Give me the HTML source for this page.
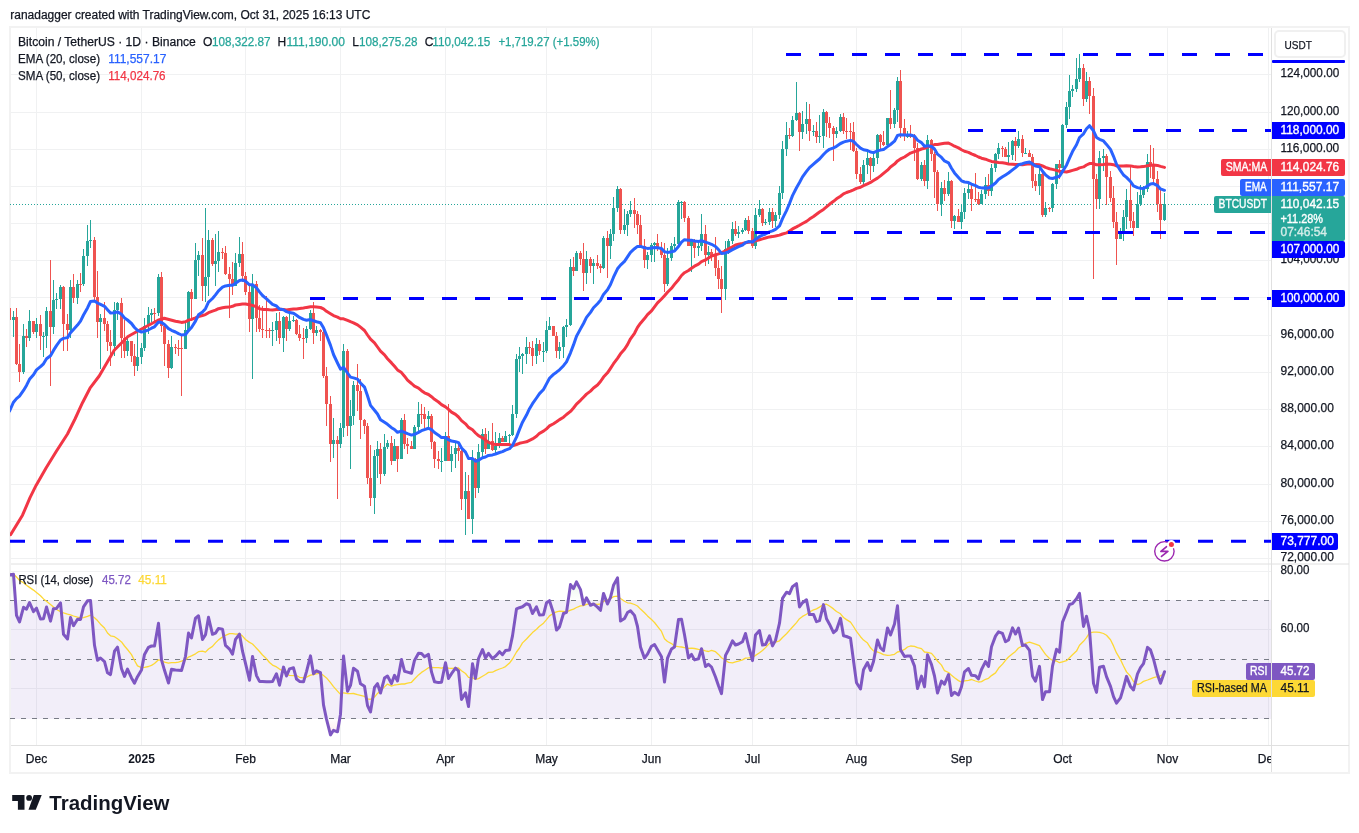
<!DOCTYPE html><html><head><meta charset="utf-8"><style>html,body{margin:0;padding:0;background:#fff;width:1359px;height:833px;overflow:hidden}svg{display:block;will-change:transform}text{font-family:"Liberation Sans",sans-serif}</style></head><body>
<svg width="1359" height="833" viewBox="0 0 1359 833">
<rect width="1359" height="833" fill="#fff"/>
<text x="10.3" y="18.8" font-size="12" fill="#131722" stroke="#131722" stroke-width="0.25" textLength="360" lengthAdjust="spacingAndGlyphs">ranadagger created with TradingView.com, Oct 31, 2025 16:13 UTC</text>
<rect x="10" y="27" width="1339" height="746" fill="none" stroke="#f2f2f2" stroke-width="2"/>
<line x1="36.5" y1="28" x2="36.5" y2="745" stroke="#f0f1f2" stroke-width="1"/>
<line x1="141.5" y1="28" x2="141.5" y2="745" stroke="#f0f1f2" stroke-width="1"/>
<line x1="245.5" y1="28" x2="245.5" y2="745" stroke="#f0f1f2" stroke-width="1"/>
<line x1="340.5" y1="28" x2="340.5" y2="745" stroke="#f0f1f2" stroke-width="1"/>
<line x1="445.5" y1="28" x2="445.5" y2="745" stroke="#f0f1f2" stroke-width="1"/>
<line x1="546.5" y1="28" x2="546.5" y2="745" stroke="#f0f1f2" stroke-width="1"/>
<line x1="651.5" y1="28" x2="651.5" y2="745" stroke="#f0f1f2" stroke-width="1"/>
<line x1="752.5" y1="28" x2="752.5" y2="745" stroke="#f0f1f2" stroke-width="1"/>
<line x1="856.5" y1="28" x2="856.5" y2="745" stroke="#f0f1f2" stroke-width="1"/>
<line x1="961.5" y1="28" x2="961.5" y2="745" stroke="#f0f1f2" stroke-width="1"/>
<line x1="1062.5" y1="28" x2="1062.5" y2="745" stroke="#f0f1f2" stroke-width="1"/>
<line x1="1167.5" y1="28" x2="1167.5" y2="745" stroke="#f0f1f2" stroke-width="1"/>
<line x1="1268.5" y1="28" x2="1268.5" y2="745" stroke="#f0f1f2" stroke-width="1"/>
<line x1="11" y1="74.5" x2="1271" y2="74.5" stroke="#f0f1f2" stroke-width="1"/>
<line x1="11" y1="112.5" x2="1271" y2="112.5" stroke="#f0f1f2" stroke-width="1"/>
<line x1="11" y1="149.5" x2="1271" y2="149.5" stroke="#f0f1f2" stroke-width="1"/>
<line x1="11" y1="186.5" x2="1271" y2="186.5" stroke="#f0f1f2" stroke-width="1"/>
<line x1="11" y1="223.5" x2="1271" y2="223.5" stroke="#f0f1f2" stroke-width="1"/>
<line x1="11" y1="260.5" x2="1271" y2="260.5" stroke="#f0f1f2" stroke-width="1"/>
<line x1="11" y1="297.5" x2="1271" y2="297.5" stroke="#f0f1f2" stroke-width="1"/>
<line x1="11" y1="335.5" x2="1271" y2="335.5" stroke="#f0f1f2" stroke-width="1"/>
<line x1="11" y1="372.5" x2="1271" y2="372.5" stroke="#f0f1f2" stroke-width="1"/>
<line x1="11" y1="409.5" x2="1271" y2="409.5" stroke="#f0f1f2" stroke-width="1"/>
<line x1="11" y1="446.5" x2="1271" y2="446.5" stroke="#f0f1f2" stroke-width="1"/>
<line x1="11" y1="484.5" x2="1271" y2="484.5" stroke="#f0f1f2" stroke-width="1"/>
<line x1="11" y1="521.5" x2="1271" y2="521.5" stroke="#f0f1f2" stroke-width="1"/>
<line x1="11" y1="558.5" x2="1271" y2="558.5" stroke="#f0f1f2" stroke-width="1"/>
<line x1="11" y1="571.5" x2="1271" y2="571.5" stroke="#f0f1f2" stroke-width="1"/>
<line x1="11" y1="629.5" x2="1271" y2="629.5" stroke="#f0f1f2" stroke-width="1"/>
<line x1="11" y1="688.5" x2="1271" y2="688.5" stroke="#f0f1f2" stroke-width="1"/>
<rect x="11" y="600" width="1260" height="119" fill="#7e57c2" fill-opacity="0.1"/>
<line x1="10" y1="600.5" x2="1271" y2="600.5" stroke="#787b86" stroke-width="1" stroke-dasharray="5 6"/>
<line x1="10" y1="659.5" x2="1271" y2="659.5" stroke="#787b86" stroke-width="1" stroke-dasharray="5 6"/>
<line x1="10" y1="718.5" x2="1271" y2="718.5" stroke="#787b86" stroke-width="1" stroke-dasharray="5 6"/>
<line x1="11" y1="564" x2="1349" y2="564" stroke="#e0e0e0" stroke-width="1"/>
<line x1="11" y1="745.5" x2="1349" y2="745.5" stroke="#e0e0e0" stroke-width="1"/>
<defs><clipPath id="mc"><rect x="10" y="28" width="1261" height="536"/></clipPath><clipPath id="rc"><rect x="10" y="565" width="1261" height="180"/></clipPath></defs>
<g clip-path="url(#mc)">
<line x1="10" y1="204.5" x2="1271" y2="204.5" stroke="#26a69a" stroke-width="1" stroke-dasharray="1 2"/>
<path d="M13.5 311V337M23.5 324V374M29.5 310V341M36.5 318V338M43.5 332V357M46.5 307V348M53.5 280V334M56.5 293V309M60.5 285V309M70.5 280V338M77.5 280V304M83.5 249V286M87.5 225V266M90.5 220V248M100.5 314V369M114.5 302V356M117.5 302V320M127.5 337V356M137.5 331V371M141.5 343V364M144.5 318V351M148.5 307V334M151.5 309V322M158.5 274V316M171.5 336V369M185.5 322V349M188.5 291V331M195.5 243V299M198.5 251V276M205.5 208V302M208.5 230V296M215.5 234V286M218.5 231V272M235.5 253V286M239.5 237V267M252.5 274V379M272.5 322V346M276.5 313V341M283.5 316V352M289.5 308V331M293.5 316V322M306.5 326V343M310.5 310V330M316.5 326V336M333.5 418V458M340.5 423V448M343.5 344V437M350.5 400V469M353.5 381V425M374.5 450V514M377.5 441V478M384.5 434V476M387.5 440V449M394.5 439V461M401.5 418V459M414.5 425V449M418.5 402V431M428.5 411V429M441.5 448V472M445.5 432V461M451.5 446V472M455.5 441V468M465.5 472V535M472.5 450V534M478.5 444V493M482.5 429V458M488.5 431V449M495.5 432V454M499.5 433V448M505.5 431V442M509.5 434V446M512.5 405V436M516.5 354V418M519.5 347V372M522.5 353V374M526.5 337V364M536.5 338V364M543.5 342V362M546.5 321V353M549.5 317V330M559.5 342V359M563.5 326V358M566.5 319V337M570.5 259V326M576.5 251V271M586.5 251V284M593.5 259V284M603.5 236V269M610.5 229V259M613.5 197V241M617.5 186V212M624.5 209V234M627.5 211V236M630.5 201V217M647.5 252V269M651.5 243V262M654.5 242V262M667.5 248V286M671.5 243V261M674.5 237V251M678.5 200V246M681.5 201V219M691.5 240V272M698.5 241V256M701.5 214V251M708.5 246V264M725.5 241V300M728.5 239V254M732.5 222V244M738.5 226V238M742.5 228V234M745.5 218V231M755.5 208V249M759.5 200V217M765.5 219V225M769.5 208V225M775.5 212V227M779.5 186V219M782.5 141V199M786.5 122V156M792.5 116V137M796.5 82V121M802.5 111V139M806.5 102V134M813.5 125V136M819.5 115V143M823.5 109V148M836.5 127V138M840.5 114V132M863.5 160V186M867.5 151V174M873.5 151V172M877.5 134V164M887.5 118V145M894.5 108V128M897.5 77V122M907.5 131V138M921.5 162V181M927.5 135V189M941.5 182V216M948.5 172V196M954.5 215V229M961.5 204V229M964.5 188V219M968.5 181V199M981.5 190V204M985.5 177V199M991.5 164V196M995.5 153V172M998.5 143V159M1008.5 142V164M1012.5 140V160M1018.5 131V148M1025.5 148V154M1039.5 168V195M1045.5 202V217M1052.5 183V212M1056.5 164V189M1062.5 124V168M1066.5 102V128M1069.5 75V119M1072.5 85V97M1076.5 58V92M1079.5 54V82M1086.5 72V102M1099.5 151V209M1103.5 149V171M1120.5 228V239M1123.5 210V241M1126.5 189V229M1137.5 192V228M1140.5 185V206M1143.5 186V198M1147.5 154V192M1164.5 193V221" stroke="#26a69a" stroke-width="1" fill="none"/>
<path d="M9.5 308V321M16.5 308V365M19.5 344V382M26.5 329V347M33.5 321V334M40.5 315V350M50.5 260V386M63.5 286V351M67.5 314V351M73.5 274V303M80.5 273V292M94.5 237V300M97.5 271V338M104.5 302V331M107.5 321V351M110.5 330V366M121.5 298V358M124.5 320V358M131.5 341V362M134.5 344V376M154.5 308V322M161.5 272V332M164.5 323V366M168.5 340V378M175.5 344V354M178.5 340V356M181.5 335V396M191.5 289V321M202.5 238V301M212.5 238V266M222.5 248V259M225.5 246V275M229.5 267V318M232.5 262V295M242.5 242V282M245.5 272V295M249.5 284V332M256.5 281V332M259.5 305V332M262.5 306V338M266.5 296V338M269.5 328V338M279.5 312V344M286.5 316V341M296.5 319V335M299.5 325V341M303.5 328V359M313.5 302V344M320.5 329V341M323.5 330V378M326.5 367V426M330.5 396V462M337.5 436V499M347.5 349V436M357.5 364V411M360.5 379V439M364.5 419V434M367.5 423V484M370.5 445V506M380.5 443V484M391.5 436V465M397.5 446V472M404.5 414V449M407.5 438V454M411.5 441V449M421.5 404V424M424.5 407V428M431.5 414V449M434.5 441V468M438.5 451V469M448.5 404V461M458.5 444V461M461.5 448V510M468.5 475V519M475.5 458V498M485.5 428V454M492.5 423V451M502.5 436V442M529.5 342V354M532.5 341V366M539.5 340V355M553.5 326V336M556.5 332V358M573.5 257V276M580.5 251V265M583.5 243V291M590.5 257V273M597.5 255V269M600.5 264V273M607.5 231V278M620.5 188V234M634.5 198V228M637.5 211V234M640.5 215V246M644.5 239V268M657.5 234V251M661.5 242V258M664.5 243V292M684.5 201V222M688.5 216V246M694.5 239V258M705.5 225V266M711.5 249V261M715.5 237V276M718.5 260V289M721.5 266V313M735.5 221V236M748.5 216V234M752.5 228V248M762.5 208V226M772.5 208V228M789.5 128V139M799.5 112V151M809.5 104V141M816.5 122V143M826.5 111V137M829.5 117V138M833.5 126V161M843.5 113V134M846.5 118V139M850.5 123V150M853.5 122V152M856.5 148V179M860.5 167V184M870.5 157V180M880.5 134V149M883.5 131V146M890.5 90V129M900.5 70V138M904.5 119V141M910.5 125V138M914.5 134V161M917.5 143V180M924.5 160V186M931.5 139V161M934.5 152V198M937.5 170V211M944.5 180V201M951.5 180V228M958.5 209V222M971.5 184V211M975.5 173V202M978.5 192V205M988.5 174V196M1002.5 146V157M1005.5 147V157M1015.5 137V161M1022.5 135V157M1029.5 150V157M1032.5 154V188M1035.5 174V191M1042.5 172V217M1049.5 207V212M1059.5 160V179M1083.5 64V106M1089.5 77V114M1093.5 88V279M1096.5 174V209M1106.5 154V205M1110.5 171V202M1113.5 186V228M1116.5 212V265M1130.5 166V228M1133.5 212V236M1150.5 145V178M1153.5 148V184M1157.5 171V212M1160.5 190V239" stroke="#ef5350" stroke-width="1" fill="none"/>
<path d="M12 317h3V320h-3ZM22 336h3V372h-3ZM28 321h3V338h-3ZM35 324h3V332h-3ZM42 336h3V337h-3ZM45 311h3V336h-3ZM52 300h3V327h-3ZM55 299h3V300h-3ZM59 287h3V299h-3ZM69 287h3V330h-3ZM76 284h3V298h-3ZM82 256h3V284h-3ZM86 241h3V256h-3ZM89 240h3V241h-3ZM99 318h3V322h-3ZM113 310h3V346h-3ZM116 303h3V310h-3ZM126 341h3V351h-3ZM136 357h3V366h-3ZM140 348h3V357h-3ZM143 326h3V348h-3ZM147 315h3V326h-3ZM150 313h3V315h-3ZM157 277h3V313h-3ZM170 347h3V368h-3ZM184 330h3V349h-3ZM187 292h3V330h-3ZM194 260h3V299h-3ZM197 255h3V260h-3ZM204 277h3V286h-3ZM207 240h3V277h-3ZM214 261h3V264h-3ZM217 252h3V261h-3ZM234 263h3V286h-3ZM238 254h3V263h-3ZM251 284h3V319h-3ZM271 330h3V331h-3ZM275 321h3V330h-3ZM282 317h3V338h-3ZM288 321h3V329h-3ZM292 320h3V321h-3ZM305 329h3V338h-3ZM309 313h3V329h-3ZM315 330h3V333h-3ZM332 440h3V444h-3ZM339 428h3V444h-3ZM342 351h3V428h-3ZM349 416h3V426h-3ZM352 385h3V416h-3ZM373 456h3V498h-3ZM376 449h3V456h-3ZM383 447h3V474h-3ZM386 443h3V447h-3ZM393 446h3V461h-3ZM400 420h3V459h-3ZM413 427h3V449h-3ZM417 414h3V427h-3ZM427 416h3V419h-3ZM440 461h3V462h-3ZM444 436h3V461h-3ZM450 454h3V461h-3ZM454 448h3V454h-3ZM464 491h3V499h-3ZM471 459h3V519h-3ZM477 452h3V488h-3ZM481 434h3V452h-3ZM487 441h3V449h-3ZM494 446h3V450h-3ZM498 438h3V446h-3ZM504 436h3V442h-3ZM508 435h3V436h-3ZM511 414h3V435h-3ZM515 359h3V414h-3ZM518 356h3V359h-3ZM521 354h3V356h-3ZM525 347h3V354h-3ZM535 344h3V356h-3ZM542 351h3V352h-3ZM545 330h3V351h-3ZM548 326h3V330h-3ZM558 347h3V351h-3ZM562 327h3V347h-3ZM565 325h3V327h-3ZM569 267h3V325h-3ZM575 253h3V271h-3ZM585 259h3V273h-3ZM592 263h3V266h-3ZM602 238h3V268h-3ZM609 234h3V246h-3ZM612 208h3V234h-3ZM616 189h3V208h-3ZM623 225h3V230h-3ZM626 214h3V225h-3ZM629 210h3V214h-3ZM646 255h3V260h-3ZM650 245h3V255h-3ZM653 243h3V245h-3ZM666 258h3V284h-3ZM670 246h3V258h-3ZM673 244h3V246h-3ZM677 202h3V244h-3ZM680 202h3V203h-3ZM690 241h3V246h-3ZM697 246h3V248h-3ZM700 234h3V246h-3ZM707 252h3V255h-3ZM724 249h3V289h-3ZM727 241h3V249h-3ZM731 229h3V241h-3ZM737 232h3V234h-3ZM741 230h3V232h-3ZM744 220h3V230h-3ZM754 215h3V246h-3ZM758 209h3V215h-3ZM764 222h3V223h-3ZM768 212h3V222h-3ZM774 215h3V221h-3ZM778 193h3V215h-3ZM781 149h3V193h-3ZM785 135h3V149h-3ZM791 120h3V136h-3ZM795 113h3V120h-3ZM801 124h3V132h-3ZM805 119h3V124h-3ZM812 131h3V132h-3ZM818 136h3V137h-3ZM822 112h3V136h-3ZM835 131h3V134h-3ZM839 117h3V131h-3ZM862 165h3V182h-3ZM866 158h3V165h-3ZM872 158h3V166h-3ZM876 135h3V158h-3ZM886 118h3V145h-3ZM893 110h3V124h-3ZM896 81h3V110h-3ZM906 136h3V137h-3ZM920 165h3V179h-3ZM926 140h3V181h-3ZM940 188h3V204h-3ZM947 181h3V194h-3ZM953 216h3V221h-3ZM960 212h3V222h-3ZM963 193h3V212h-3ZM967 189h3V193h-3ZM980 194h3V204h-3ZM984 185h3V194h-3ZM990 168h3V191h-3ZM994 154h3V168h-3ZM997 148h3V154h-3ZM1007 155h3V157h-3ZM1011 141h3V155h-3ZM1017 139h3V146h-3ZM1024 153h3V154h-3ZM1038 174h3V186h-3ZM1044 208h3V215h-3ZM1051 184h3V208h-3ZM1055 164h3V184h-3ZM1061 125h3V168h-3ZM1065 107h3V125h-3ZM1068 91h3V107h-3ZM1071 89h3V91h-3ZM1075 79h3V89h-3ZM1078 68h3V79h-3ZM1085 81h3V99h-3ZM1098 158h3V199h-3ZM1102 156h3V158h-3ZM1119 231h3V239h-3ZM1122 217h3V231h-3ZM1125 200h3V217h-3ZM1136 204h3V228h-3ZM1139 195h3V204h-3ZM1142 189h3V195h-3ZM1146 162h3V189h-3ZM1163 204h3V220h-3Z" fill="#26a69a"/>
<path d="M8 308h3V320h-3ZM15 317h3V364h-3ZM18 364h3V372h-3ZM25 336h3V338h-3ZM32 321h3V332h-3ZM39 324h3V336h-3ZM49 311h3V327h-3ZM62 287h3V324h-3ZM66 324h3V330h-3ZM72 287h3V298h-3ZM79 284h3V285h-3ZM93 240h3V297h-3ZM96 297h3V322h-3ZM103 318h3V324h-3ZM106 324h3V342h-3ZM109 342h3V346h-3ZM120 303h3V338h-3ZM123 338h3V351h-3ZM130 341h3V356h-3ZM133 356h3V366h-3ZM153 313h3V314h-3ZM160 277h3V326h-3ZM163 326h3V344h-3ZM167 344h3V368h-3ZM174 347h3V348h-3ZM177 348h3V349h-3ZM180 348h3V349h-3ZM190 292h3V299h-3ZM201 255h3V286h-3ZM211 240h3V264h-3ZM221 252h3V253h-3ZM224 253h3V274h-3ZM228 274h3V279h-3ZM231 279h3V286h-3ZM241 254h3V276h-3ZM244 276h3V292h-3ZM248 292h3V319h-3ZM255 284h3V318h-3ZM258 318h3V329h-3ZM261 329h3V330h-3ZM265 330h3V331h-3ZM268 330h3V331h-3ZM278 321h3V338h-3ZM285 317h3V329h-3ZM295 320h3V334h-3ZM298 334h3V338h-3ZM302 338h3V339h-3ZM312 313h3V333h-3ZM319 330h3V332h-3ZM322 332h3V376h-3ZM325 376h3V404h-3ZM329 404h3V444h-3ZM336 440h3V444h-3ZM346 351h3V426h-3ZM356 385h3V391h-3ZM359 391h3V420h-3ZM363 420h3V426h-3ZM366 426h3V478h-3ZM369 478h3V498h-3ZM379 449h3V474h-3ZM390 443h3V461h-3ZM396 446h3V459h-3ZM403 420h3V444h-3ZM406 444h3V446h-3ZM410 446h3V449h-3ZM420 414h3V415h-3ZM423 414h3V419h-3ZM430 416h3V442h-3ZM433 442h3V459h-3ZM437 459h3V461h-3ZM447 436h3V461h-3ZM457 448h3V451h-3ZM460 451h3V499h-3ZM467 491h3V519h-3ZM474 459h3V488h-3ZM484 434h3V449h-3ZM491 441h3V450h-3ZM501 438h3V442h-3ZM528 347h3V348h-3ZM531 348h3V356h-3ZM538 344h3V351h-3ZM552 326h3V336h-3ZM555 336h3V351h-3ZM572 267h3V271h-3ZM579 253h3V259h-3ZM582 259h3V273h-3ZM589 259h3V266h-3ZM596 263h3V266h-3ZM599 266h3V268h-3ZM606 238h3V246h-3ZM619 189h3V230h-3ZM633 210h3V214h-3ZM636 214h3V225h-3ZM639 225h3V246h-3ZM643 246h3V260h-3ZM656 243h3V248h-3ZM660 248h3V255h-3ZM663 255h3V284h-3ZM683 202h3V218h-3ZM687 218h3V246h-3ZM693 241h3V248h-3ZM704 234h3V255h-3ZM710 252h3V256h-3ZM714 256h3V268h-3ZM717 268h3V279h-3ZM720 279h3V289h-3ZM734 229h3V234h-3ZM747 220h3V231h-3ZM751 231h3V246h-3ZM761 209h3V223h-3ZM771 212h3V221h-3ZM788 135h3V136h-3ZM798 113h3V132h-3ZM808 119h3V131h-3ZM815 131h3V137h-3ZM825 112h3V123h-3ZM828 123h3V128h-3ZM832 128h3V134h-3ZM842 117h3V131h-3ZM845 131h3V132h-3ZM849 131h3V132h-3ZM852 132h3V151h-3ZM855 151h3V174h-3ZM859 174h3V182h-3ZM869 158h3V166h-3ZM879 135h3V142h-3ZM882 142h3V145h-3ZM889 118h3V124h-3ZM899 81h3V128h-3ZM903 128h3V136h-3ZM909 136h3V137h-3ZM913 136h3V148h-3ZM916 148h3V179h-3ZM923 165h3V181h-3ZM930 140h3V154h-3ZM933 154h3V172h-3ZM936 172h3V204h-3ZM943 188h3V194h-3ZM950 181h3V221h-3ZM957 216h3V222h-3ZM970 189h3V199h-3ZM974 199h3V200h-3ZM977 199h3V204h-3ZM987 185h3V191h-3ZM1001 148h3V149h-3ZM1004 149h3V157h-3ZM1014 141h3V146h-3ZM1021 139h3V153h-3ZM1028 153h3V157h-3ZM1031 157h3V181h-3ZM1034 181h3V186h-3ZM1041 174h3V215h-3ZM1048 208h3V209h-3ZM1058 164h3V168h-3ZM1082 68h3V99h-3ZM1088 81h3V96h-3ZM1092 96h3V179h-3ZM1095 179h3V199h-3ZM1105 156h3V177h-3ZM1109 177h3V198h-3ZM1112 198h3V222h-3ZM1115 222h3V239h-3ZM1129 200h3V221h-3ZM1132 221h3V228h-3ZM1149 162h3V166h-3ZM1152 166h3V179h-3ZM1156 179h3V204h-3ZM1159 204h3V220h-3Z" fill="#ef5350"/>
<polyline points="10.6,534.6 22.5,515.2 30.0,497.7 36.2,485.2 46.2,467.7 56.2,451.5 67.5,434.0 75.0,419.0 82.5,402.7 90.0,388.2 99.2,376.0 114.2,350.2 128.0,336.5 139.2,330.2 158.0,320.2 164.2,318.2 175.5,321.2 178.5,321.7 181.5,322.4 185.5,321.7 188.5,320.1 191.5,319.4 195.5,317.8 198.5,316.5 202.5,315.5 205.5,314.6 208.5,312.7 212.5,311.2 215.5,310.2 218.5,308.7 222.5,307.8 225.5,307.3 229.5,307.1 232.5,306.3 235.5,305.0 239.5,304.4 242.5,303.9 245.5,304.1 249.5,304.8 252.5,305.4 256.5,306.9 259.5,308.7 262.5,309.4 266.5,309.5 269.5,309.8 272.5,309.9 276.5,309.5 279.5,309.3 283.5,309.4 286.5,310.0 289.5,309.6 293.5,309.0 296.5,308.9 299.5,308.5 303.5,308.0 306.5,307.4 310.5,306.7 313.5,306.8 316.5,307.1 320.5,307.5 323.5,308.8 326.5,311.3 330.5,313.7 333.5,315.6 337.5,317.1 340.5,318.7 343.5,318.8 347.5,320.4 350.5,321.7 353.5,322.8 357.5,324.8 360.5,327.2 364.5,330.5 367.5,335.0 370.5,339.2 374.5,342.8 377.5,347.0 380.5,351.2 384.5,354.9 387.5,358.7 391.5,362.9 394.5,366.3 397.5,369.9 401.5,372.6 404.5,376.2 407.5,380.1 411.5,383.5 414.5,386.2 418.5,388.1 421.5,390.7 424.5,392.8 428.5,394.5 431.5,396.7 434.5,399.3 438.5,402.0 441.5,404.6 445.5,406.9 448.5,409.3 451.5,412.1 455.5,414.4 458.5,417.0 461.5,420.6 465.5,423.8 468.5,427.4 472.5,429.8 475.5,433.0 478.5,435.7 482.5,437.8 485.5,440.1 488.5,442.3 492.5,443.8 495.5,444.6 499.5,444.5 502.5,444.6 505.5,444.4 509.5,444.6 512.5,445.8 516.5,444.5 519.5,443.3 522.5,442.6 526.5,441.8 529.5,440.3 532.5,438.9 536.5,436.3 539.5,433.3 543.5,431.2 546.5,428.8 549.5,425.9 553.5,423.7 556.5,421.8 559.5,419.6 563.5,417.2 566.5,414.5 570.5,411.4 573.5,408.0 576.5,404.1 580.5,400.3 583.5,397.2 586.5,394.1 590.5,391.1 593.5,388.0 597.5,385.0 600.5,381.5 603.5,377.1 607.5,372.8 610.5,368.3 613.5,363.7 617.5,358.3 620.5,353.8 624.5,349.3 627.5,344.6 630.5,338.8 634.5,333.3 637.5,327.4 640.5,323.2 644.5,318.6 647.5,314.7 651.5,310.9 654.5,306.8 657.5,302.9 661.5,299.0 664.5,295.8 667.5,292.2 671.5,288.3 674.5,284.4 678.5,279.7 681.5,275.5 684.5,272.7 688.5,270.5 691.5,268.2 694.5,266.2 698.5,264.2 701.5,261.7 705.5,259.9 708.5,258.0 711.5,256.1 715.5,254.8 718.5,253.9 721.5,252.9 725.5,250.9 728.5,248.8 732.5,246.8 735.5,245.0 738.5,244.3 742.5,243.5 745.5,242.8 748.5,242.3 752.5,241.7 755.5,240.8 759.5,239.7 762.5,238.9 765.5,238.0 769.5,236.9 772.5,236.6 775.5,236.0 779.5,235.1 782.5,234.0 786.5,232.9 789.5,231.0 792.5,228.9 796.5,226.9 799.5,225.3 802.5,223.5 806.5,221.4 809.5,219.1 813.5,216.5 816.5,214.2 819.5,212.0 823.5,209.4 826.5,206.9 829.5,204.3 833.5,201.3 836.5,198.8 840.5,196.2 843.5,193.9 846.5,192.5 850.5,191.1 853.5,189.8 856.5,188.4 860.5,187.2 863.5,185.6 867.5,183.8 870.5,182.4 873.5,180.5 877.5,178.1 880.5,175.9 883.5,173.4 887.5,170.2 890.5,166.9 894.5,164.1 897.5,160.9 900.5,158.9 904.5,157.0 907.5,155.0 910.5,153.1 914.5,151.7 917.5,150.6 921.5,149.0 924.5,148.3 927.5,147.0 931.5,145.6 934.5,144.6 937.5,144.4 941.5,143.8 944.5,143.3 948.5,143.1 951.5,144.5 954.5,146.2 958.5,147.9 961.5,149.7 964.5,151.3 968.5,152.4 971.5,153.9 975.5,155.5 978.5,157.0 981.5,158.2 985.5,159.2 988.5,160.3 991.5,161.4 995.5,162.0 998.5,162.4 1002.5,162.7 1005.5,163.2 1008.5,164.0 1012.5,164.2 1015.5,164.5 1018.5,164.6 1022.5,164.7 1025.5,164.2 1029.5,163.7 1032.5,164.0 1035.5,164.6 1039.5,164.8 1042.5,165.9 1045.5,167.4 1049.5,168.7 1052.5,169.4 1056.5,170.4 1059.5,171.2 1062.5,171.5 1066.5,172.0 1069.5,171.3 1072.5,170.4 1076.5,169.3 1079.5,167.9 1083.5,166.9 1086.5,165.0 1089.5,163.6 1093.5,163.6 1096.5,164.8 1099.5,164.8 1103.5,164.5 1106.5,164.0 1110.5,164.2 1113.5,164.7 1116.5,165.9 1120.5,166.1 1123.5,166.1 1126.5,165.7 1130.5,165.9 1133.5,166.5 1137.5,166.9 1140.5,166.8 1143.5,166.6 1147.5,165.7 1150.5,165.2 1153.5,165.1 1157.5,165.4 1160.5,166.4 1164.5,167.4" fill="none" stroke="#f23645" stroke-width="3" stroke-linejoin="round" stroke-linecap="round"/>
<polyline points="9.5,411.2 13.5,402.2 16.5,398.6 19.5,396.1 23.5,390.4 26.5,385.4 29.5,379.3 33.5,374.8 36.5,369.9 40.5,366.7 43.5,363.8 46.5,358.8 50.5,355.8 53.5,350.4 56.5,345.6 60.5,340.0 63.5,338.4 67.5,337.6 70.5,332.8 73.5,329.4 77.5,325.1 80.5,321.2 83.5,315.0 87.5,307.9 90.5,301.5 94.5,301.0 97.5,303.0 100.5,304.4 104.5,306.3 107.5,309.7 110.5,313.1 114.5,312.8 117.5,311.9 121.5,314.3 124.5,317.9 127.5,320.0 131.5,323.5 134.5,327.5 137.5,330.3 141.5,332.0 144.5,331.4 148.5,329.8 151.5,328.2 154.5,326.8 158.5,322.0 161.5,322.4 164.5,324.5 168.5,328.6 171.5,330.3 175.5,332.0 178.5,333.6 181.5,335.0 185.5,334.6 188.5,330.6 191.5,327.5 195.5,321.1 198.5,314.8 202.5,312.0 205.5,308.7 208.5,302.1 212.5,298.5 215.5,294.9 218.5,290.8 222.5,287.2 225.5,285.9 229.5,285.3 232.5,285.3 235.5,283.2 239.5,280.4 242.5,280.0 245.5,281.2 249.5,284.8 252.5,284.8 256.5,287.9 259.5,291.9 262.5,295.5 266.5,298.8 269.5,301.7 272.5,304.4 276.5,306.0 279.5,309.0 283.5,309.8 286.5,311.6 289.5,312.6 293.5,313.3 296.5,315.3 299.5,317.4 303.5,319.4 306.5,320.3 310.5,319.6 313.5,320.8 316.5,321.7 320.5,322.7 323.5,327.8 326.5,335.0 330.5,345.4 333.5,354.5 337.5,363.0 340.5,369.1 343.5,367.4 347.5,373.0 350.5,377.1 353.5,377.9 357.5,379.1 360.5,383.0 364.5,387.1 367.5,395.7 370.5,405.4 374.5,410.3 377.5,414.0 380.5,419.7 384.5,422.3 387.5,424.3 391.5,427.7 394.5,429.5 397.5,432.3 401.5,431.1 404.5,432.4 407.5,433.7 411.5,435.1 414.5,434.3 418.5,432.4 421.5,430.7 424.5,429.6 428.5,428.3 431.5,429.7 434.5,432.5 438.5,435.2 441.5,437.6 445.5,437.5 448.5,439.7 451.5,441.1 455.5,441.7 458.5,442.6 461.5,448.0 465.5,452.1 468.5,458.4 472.5,458.5 475.5,461.2 478.5,460.3 482.5,457.8 485.5,457.0 488.5,455.4 492.5,454.9 495.5,454.0 499.5,452.5 502.5,451.6 505.5,450.1 509.5,448.7 512.5,445.4 516.5,437.1 519.5,429.4 522.5,422.2 526.5,415.1 529.5,408.7 532.5,403.7 536.5,398.0 539.5,393.6 543.5,389.5 546.5,383.9 549.5,378.3 553.5,374.4 556.5,372.2 559.5,369.8 563.5,365.7 566.5,361.8 570.5,352.8 573.5,344.9 576.5,336.2 580.5,328.9 583.5,323.5 586.5,317.4 590.5,312.4 593.5,307.7 597.5,303.7 600.5,300.3 603.5,294.4 607.5,289.8 610.5,284.5 613.5,277.2 617.5,268.8 620.5,265.1 624.5,261.3 627.5,256.8 630.5,252.3 634.5,248.7 637.5,246.4 640.5,246.4 644.5,247.7 647.5,248.4 651.5,248.1 654.5,247.6 657.5,247.7 661.5,248.4 664.5,251.8 667.5,252.4 671.5,251.8 674.5,251.0 678.5,246.4 681.5,242.1 684.5,239.7 688.5,240.3 691.5,240.3 694.5,241.0 698.5,241.5 701.5,240.8 705.5,242.1 708.5,243.1 711.5,244.3 715.5,246.5 718.5,249.6 721.5,253.4 725.5,252.9 728.5,251.8 732.5,249.7 735.5,248.2 738.5,246.7 742.5,245.1 745.5,242.7 748.5,241.6 752.5,242.0 755.5,239.4 759.5,236.5 762.5,235.2 765.5,234.0 769.5,231.9 772.5,230.9 775.5,229.4 779.5,225.9 782.5,218.6 786.5,210.6 789.5,203.5 792.5,195.6 796.5,187.7 799.5,182.5 802.5,176.9 806.5,171.4 809.5,167.6 813.5,164.1 816.5,161.5 819.5,159.0 823.5,154.5 826.5,151.5 829.5,149.3 833.5,147.8 836.5,146.3 840.5,143.5 843.5,142.2 846.5,141.2 850.5,140.4 853.5,141.4 856.5,144.5 860.5,148.1 863.5,149.7 867.5,150.5 870.5,152.0 873.5,152.6 877.5,150.9 880.5,150.1 883.5,149.6 887.5,146.6 890.5,144.5 894.5,141.2 897.5,135.5 900.5,134.7 904.5,134.9 907.5,134.9 910.5,135.0 914.5,136.2 917.5,140.2 921.5,142.6 924.5,146.3 927.5,145.7 931.5,146.5 934.5,149.0 937.5,154.2 941.5,157.4 944.5,160.9 948.5,162.8 951.5,168.3 954.5,172.9 958.5,177.5 961.5,180.8 964.5,182.0 968.5,182.6 971.5,184.1 975.5,185.6 978.5,187.3 981.5,187.9 985.5,187.7 988.5,187.9 991.5,186.0 995.5,183.0 998.5,179.6 1002.5,176.8 1005.5,174.9 1008.5,173.0 1012.5,169.9 1015.5,167.6 1018.5,164.8 1022.5,163.7 1025.5,162.7 1029.5,162.1 1032.5,163.9 1035.5,166.0 1039.5,166.7 1042.5,171.3 1045.5,174.8 1049.5,178.0 1052.5,178.5 1056.5,177.2 1059.5,176.3 1062.5,171.4 1066.5,165.2 1069.5,158.2 1072.5,151.6 1076.5,144.8 1079.5,137.5 1083.5,133.8 1086.5,128.8 1089.5,125.7 1093.5,130.8 1096.5,137.4 1099.5,139.3 1103.5,140.9 1106.5,144.4 1110.5,149.4 1113.5,156.3 1116.5,164.2 1120.5,170.6 1123.5,175.0 1126.5,177.4 1130.5,181.5 1133.5,185.9 1137.5,187.6 1140.5,188.3 1143.5,188.4 1147.5,185.9 1150.5,184.0 1153.5,183.6 1157.5,185.6 1160.5,188.9 1164.5,190.3" fill="none" stroke="#2962ff" stroke-width="3" stroke-linejoin="round" stroke-linecap="round"/>
<line x1="786" y1="54.5" x2="1271" y2="54.5" stroke="#0000ff" stroke-width="3" stroke-dasharray="15 18"/>
<line x1="968" y1="130.45" x2="1271" y2="130.45" stroke="#0000ff" stroke-width="3" stroke-dasharray="15 18"/>
<line x1="755" y1="232.5" x2="1271" y2="232.5" stroke="#0000ff" stroke-width="3" stroke-dasharray="15 18"/>
<line x1="310" y1="298.45" x2="1271" y2="298.45" stroke="#0000ff" stroke-width="3" stroke-dasharray="15 18"/>
<line x1="10" y1="541.3" x2="1271" y2="541.3" stroke="#0000ff" stroke-width="3" stroke-dasharray="15 18"/>
</g>
<g clip-path="url(#rc)">
<defs><linearGradient id="ob" gradientUnits="userSpaceOnUse" x1="0" y1="572" x2="0" y2="600.5"><stop offset="0" stop-color="#4caf50" stop-opacity="0.18"/><stop offset="1" stop-color="#4caf50" stop-opacity="0"/></linearGradient><clipPath id="obc"><rect x="11" y="565" width="1260" height="35.5"/></clipPath><clipPath id="osc"><rect x="11" y="718.5" width="1260" height="30"/></clipPath><linearGradient id="os" gradientUnits="userSpaceOnUse" x1="0" y1="718.5" x2="0" y2="745"><stop offset="0" stop-color="#f23645" stop-opacity="0"/><stop offset="1" stop-color="#f23645" stop-opacity="0.18"/></linearGradient></defs>
<polygon points="9.5,600.5 9.5,575.0 13.5,574.2 16.5,615.4 19.5,622.0 23.5,607.3 26.5,609.2 29.5,602.5 33.5,611.6 36.5,608.2 40.5,619.0 43.5,618.7 46.5,607.0 50.5,621.1 53.5,608.7 56.5,608.4 60.5,602.9 63.5,634.3 67.5,639.0 70.5,617.6 73.5,625.7 77.5,619.2 80.5,619.5 83.5,606.8 87.5,600.8 90.5,600.4 94.5,645.3 97.5,660.3 100.5,658.0 104.5,661.6 107.5,672.8 110.5,674.6 114.5,651.2 117.5,647.1 121.5,668.8 124.5,676.4 127.5,669.1 131.5,677.9 134.5,683.2 137.5,676.7 141.5,669.9 144.5,654.4 148.5,647.3 151.5,646.0 154.5,646.0 158.5,623.3 161.5,659.9 164.5,670.3 168.5,683.0 171.5,669.3 175.5,669.9 178.5,670.2 181.5,670.5 185.5,656.3 188.5,633.1 191.5,638.0 195.5,618.1 198.5,615.8 202.5,639.5 205.5,634.8 208.5,617.3 212.5,634.3 215.5,633.1 218.5,628.4 222.5,629.2 225.5,645.4 229.5,649.1 232.5,654.3 235.5,639.4 239.5,634.2 242.5,651.2 245.5,663.3 249.5,680.2 252.5,656.4 256.5,675.6 259.5,681.4 262.5,681.5 266.5,681.8 269.5,681.8 272.5,681.6 276.5,673.8 279.5,685.2 283.5,667.1 286.5,676.0 289.5,668.9 293.5,667.8 296.5,679.0 299.5,681.4 303.5,681.8 306.5,671.6 310.5,655.9 313.5,673.8 316.5,670.8 320.5,672.6 323.5,704.9 326.5,719.1 330.5,734.9 333.5,730.3 337.5,731.8 340.5,714.2 343.5,656.0 347.5,691.2 350.5,685.4 353.5,668.3 357.5,671.2 360.5,683.8 364.5,686.3 367.5,705.5 370.5,711.9 374.5,687.5 377.5,683.7 380.5,693.0 384.5,678.1 387.5,676.0 391.5,683.6 394.5,675.3 397.5,681.0 401.5,659.5 404.5,671.2 407.5,672.1 411.5,673.3 414.5,660.4 418.5,653.2 421.5,653.5 424.5,656.7 428.5,654.4 431.5,671.9 434.5,681.7 438.5,682.6 441.5,682.3 445.5,662.7 448.5,678.5 451.5,673.7 455.5,668.2 458.5,670.9 461.5,699.4 465.5,692.9 468.5,706.5 472.5,663.8 475.5,678.4 478.5,658.5 482.5,649.5 485.5,658.0 488.5,653.3 492.5,658.7 495.5,656.2 499.5,651.7 502.5,654.7 505.5,650.6 509.5,650.0 512.5,635.9 516.5,608.9 519.5,607.7 522.5,606.8 526.5,603.7 529.5,605.0 532.5,613.5 536.5,606.9 539.5,615.0 543.5,614.7 546.5,602.8 549.5,600.7 553.5,613.3 556.5,630.1 559.5,626.9 563.5,613.5 566.5,612.4 570.5,584.6 573.5,588.6 576.5,581.9 580.5,589.6 583.5,604.4 586.5,597.9 590.5,605.3 593.5,603.9 597.5,607.1 600.5,610.3 603.5,593.4 607.5,604.0 610.5,597.3 613.5,585.3 617.5,577.9 620.5,621.1 624.5,618.5 627.5,612.6 630.5,610.7 634.5,615.4 637.5,626.5 640.5,646.9 644.5,658.2 647.5,654.2 651.5,646.2 654.5,644.6 657.5,649.8 661.5,656.7 664.5,682.0 667.5,658.2 671.5,649.0 674.5,647.0 678.5,619.5 681.5,619.3 684.5,634.8 688.5,658.0 691.5,654.4 694.5,659.9 698.5,658.8 701.5,648.7 705.5,666.5 708.5,664.3 711.5,667.0 715.5,677.0 718.5,685.8 721.5,693.7 725.5,655.4 728.5,649.7 732.5,640.9 735.5,645.0 738.5,644.0 742.5,641.8 745.5,633.5 748.5,646.0 752.5,660.6 755.5,635.0 759.5,630.5 762.5,645.1 765.5,644.6 769.5,635.9 772.5,645.9 775.5,640.4 779.5,623.2 782.5,598.4 786.5,592.2 789.5,593.7 792.5,586.6 796.5,583.7 799.5,606.9 802.5,602.7 806.5,599.8 809.5,614.6 813.5,614.4 816.5,621.7 819.5,620.7 823.5,604.6 826.5,618.8 829.5,624.2 833.5,632.6 836.5,630.0 840.5,618.3 843.5,635.7 846.5,636.5 850.5,638.1 853.5,660.7 856.5,682.8 860.5,689.0 863.5,669.8 867.5,662.5 870.5,670.5 873.5,661.6 877.5,640.0 880.5,648.0 883.5,650.7 887.5,627.9 890.5,635.0 894.5,624.0 897.5,605.8 900.5,649.8 904.5,656.5 907.5,656.0 910.5,656.0 914.5,666.1 917.5,688.5 921.5,676.1 924.5,686.9 927.5,654.8 931.5,664.6 934.5,676.0 937.5,693.0 941.5,681.1 944.5,684.2 948.5,674.6 951.5,695.6 954.5,692.2 958.5,694.9 961.5,686.8 964.5,671.8 968.5,668.5 971.5,675.3 975.5,675.7 978.5,678.9 981.5,669.5 985.5,661.6 988.5,666.4 991.5,646.8 995.5,636.1 998.5,631.9 1002.5,633.4 1005.5,641.7 1008.5,640.0 1012.5,627.9 1015.5,634.0 1018.5,628.1 1022.5,645.6 1025.5,645.1 1029.5,650.4 1032.5,675.9 1035.5,681.2 1039.5,666.4 1042.5,699.6 1045.5,691.8 1049.5,691.8 1052.5,666.1 1056.5,649.3 1059.5,652.2 1062.5,622.1 1066.5,612.3 1069.5,604.5 1072.5,603.6 1076.5,598.7 1079.5,593.4 1083.5,626.4 1086.5,616.3 1089.5,630.1 1093.5,683.4 1096.5,692.4 1099.5,667.3 1103.5,666.3 1106.5,676.7 1110.5,686.3 1113.5,696.6 1116.5,703.2 1120.5,697.9 1123.5,687.7 1126.5,676.4 1130.5,686.6 1133.5,689.9 1137.5,673.8 1140.5,667.7 1143.5,663.6 1147.5,647.4 1150.5,650.0 1153.5,659.0 1157.5,674.6 1160.5,683.3 1164.5,671.7 1164.5,600.5" fill="url(#ob)" clip-path="url(#obc)"/>
<polygon points="9.5,718.5 9.5,575.0 13.5,574.2 16.5,615.4 19.5,622.0 23.5,607.3 26.5,609.2 29.5,602.5 33.5,611.6 36.5,608.2 40.5,619.0 43.5,618.7 46.5,607.0 50.5,621.1 53.5,608.7 56.5,608.4 60.5,602.9 63.5,634.3 67.5,639.0 70.5,617.6 73.5,625.7 77.5,619.2 80.5,619.5 83.5,606.8 87.5,600.8 90.5,600.4 94.5,645.3 97.5,660.3 100.5,658.0 104.5,661.6 107.5,672.8 110.5,674.6 114.5,651.2 117.5,647.1 121.5,668.8 124.5,676.4 127.5,669.1 131.5,677.9 134.5,683.2 137.5,676.7 141.5,669.9 144.5,654.4 148.5,647.3 151.5,646.0 154.5,646.0 158.5,623.3 161.5,659.9 164.5,670.3 168.5,683.0 171.5,669.3 175.5,669.9 178.5,670.2 181.5,670.5 185.5,656.3 188.5,633.1 191.5,638.0 195.5,618.1 198.5,615.8 202.5,639.5 205.5,634.8 208.5,617.3 212.5,634.3 215.5,633.1 218.5,628.4 222.5,629.2 225.5,645.4 229.5,649.1 232.5,654.3 235.5,639.4 239.5,634.2 242.5,651.2 245.5,663.3 249.5,680.2 252.5,656.4 256.5,675.6 259.5,681.4 262.5,681.5 266.5,681.8 269.5,681.8 272.5,681.6 276.5,673.8 279.5,685.2 283.5,667.1 286.5,676.0 289.5,668.9 293.5,667.8 296.5,679.0 299.5,681.4 303.5,681.8 306.5,671.6 310.5,655.9 313.5,673.8 316.5,670.8 320.5,672.6 323.5,704.9 326.5,719.1 330.5,734.9 333.5,730.3 337.5,731.8 340.5,714.2 343.5,656.0 347.5,691.2 350.5,685.4 353.5,668.3 357.5,671.2 360.5,683.8 364.5,686.3 367.5,705.5 370.5,711.9 374.5,687.5 377.5,683.7 380.5,693.0 384.5,678.1 387.5,676.0 391.5,683.6 394.5,675.3 397.5,681.0 401.5,659.5 404.5,671.2 407.5,672.1 411.5,673.3 414.5,660.4 418.5,653.2 421.5,653.5 424.5,656.7 428.5,654.4 431.5,671.9 434.5,681.7 438.5,682.6 441.5,682.3 445.5,662.7 448.5,678.5 451.5,673.7 455.5,668.2 458.5,670.9 461.5,699.4 465.5,692.9 468.5,706.5 472.5,663.8 475.5,678.4 478.5,658.5 482.5,649.5 485.5,658.0 488.5,653.3 492.5,658.7 495.5,656.2 499.5,651.7 502.5,654.7 505.5,650.6 509.5,650.0 512.5,635.9 516.5,608.9 519.5,607.7 522.5,606.8 526.5,603.7 529.5,605.0 532.5,613.5 536.5,606.9 539.5,615.0 543.5,614.7 546.5,602.8 549.5,600.7 553.5,613.3 556.5,630.1 559.5,626.9 563.5,613.5 566.5,612.4 570.5,584.6 573.5,588.6 576.5,581.9 580.5,589.6 583.5,604.4 586.5,597.9 590.5,605.3 593.5,603.9 597.5,607.1 600.5,610.3 603.5,593.4 607.5,604.0 610.5,597.3 613.5,585.3 617.5,577.9 620.5,621.1 624.5,618.5 627.5,612.6 630.5,610.7 634.5,615.4 637.5,626.5 640.5,646.9 644.5,658.2 647.5,654.2 651.5,646.2 654.5,644.6 657.5,649.8 661.5,656.7 664.5,682.0 667.5,658.2 671.5,649.0 674.5,647.0 678.5,619.5 681.5,619.3 684.5,634.8 688.5,658.0 691.5,654.4 694.5,659.9 698.5,658.8 701.5,648.7 705.5,666.5 708.5,664.3 711.5,667.0 715.5,677.0 718.5,685.8 721.5,693.7 725.5,655.4 728.5,649.7 732.5,640.9 735.5,645.0 738.5,644.0 742.5,641.8 745.5,633.5 748.5,646.0 752.5,660.6 755.5,635.0 759.5,630.5 762.5,645.1 765.5,644.6 769.5,635.9 772.5,645.9 775.5,640.4 779.5,623.2 782.5,598.4 786.5,592.2 789.5,593.7 792.5,586.6 796.5,583.7 799.5,606.9 802.5,602.7 806.5,599.8 809.5,614.6 813.5,614.4 816.5,621.7 819.5,620.7 823.5,604.6 826.5,618.8 829.5,624.2 833.5,632.6 836.5,630.0 840.5,618.3 843.5,635.7 846.5,636.5 850.5,638.1 853.5,660.7 856.5,682.8 860.5,689.0 863.5,669.8 867.5,662.5 870.5,670.5 873.5,661.6 877.5,640.0 880.5,648.0 883.5,650.7 887.5,627.9 890.5,635.0 894.5,624.0 897.5,605.8 900.5,649.8 904.5,656.5 907.5,656.0 910.5,656.0 914.5,666.1 917.5,688.5 921.5,676.1 924.5,686.9 927.5,654.8 931.5,664.6 934.5,676.0 937.5,693.0 941.5,681.1 944.5,684.2 948.5,674.6 951.5,695.6 954.5,692.2 958.5,694.9 961.5,686.8 964.5,671.8 968.5,668.5 971.5,675.3 975.5,675.7 978.5,678.9 981.5,669.5 985.5,661.6 988.5,666.4 991.5,646.8 995.5,636.1 998.5,631.9 1002.5,633.4 1005.5,641.7 1008.5,640.0 1012.5,627.9 1015.5,634.0 1018.5,628.1 1022.5,645.6 1025.5,645.1 1029.5,650.4 1032.5,675.9 1035.5,681.2 1039.5,666.4 1042.5,699.6 1045.5,691.8 1049.5,691.8 1052.5,666.1 1056.5,649.3 1059.5,652.2 1062.5,622.1 1066.5,612.3 1069.5,604.5 1072.5,603.6 1076.5,598.7 1079.5,593.4 1083.5,626.4 1086.5,616.3 1089.5,630.1 1093.5,683.4 1096.5,692.4 1099.5,667.3 1103.5,666.3 1106.5,676.7 1110.5,686.3 1113.5,696.6 1116.5,703.2 1120.5,697.9 1123.5,687.7 1126.5,676.4 1130.5,686.6 1133.5,689.9 1137.5,673.8 1140.5,667.7 1143.5,663.6 1147.5,647.4 1150.5,650.0 1153.5,659.0 1157.5,674.6 1160.5,683.3 1164.5,671.7 1164.5,718.5" fill="url(#os)" clip-path="url(#osc)"/>
<polyline points="9.5,574.0 13.5,574.0 16.5,577.0 19.5,580.4 23.5,582.8 26.5,585.3 29.5,587.4 33.5,590.1 36.5,592.5 40.5,595.7 43.5,598.9 46.5,601.3 50.5,604.6 53.5,607.1 56.5,609.5 60.5,611.6 63.5,612.9 67.5,614.1 70.5,614.9 73.5,616.0 77.5,617.2 80.5,617.8 83.5,617.7 87.5,616.4 90.5,615.1 94.5,617.8 97.5,620.6 100.5,624.2 104.5,628.0 107.5,633.0 110.5,635.8 114.5,636.7 117.5,638.8 121.5,641.9 124.5,646.0 127.5,649.5 131.5,654.6 134.5,660.5 137.5,665.9 141.5,667.7 144.5,667.3 148.5,666.5 151.5,665.4 154.5,663.5 158.5,659.8 161.5,660.4 164.5,662.1 168.5,663.1 171.5,662.6 175.5,662.7 178.5,662.1 181.5,661.2 185.5,659.7 188.5,657.1 191.5,655.9 195.5,653.8 198.5,651.7 202.5,651.2 205.5,652.1 208.5,649.0 212.5,646.4 215.5,642.9 218.5,639.9 222.5,637.0 225.5,635.3 229.5,633.7 232.5,633.6 235.5,634.1 239.5,633.8 242.5,636.1 245.5,639.5 249.5,642.4 252.5,644.0 256.5,648.2 259.5,651.5 262.5,655.0 266.5,658.8 269.5,662.5 272.5,665.1 276.5,666.9 279.5,669.1 283.5,671.1 286.5,674.0 289.5,675.3 293.5,675.6 296.5,675.5 299.5,677.3 303.5,677.8 306.5,677.1 310.5,675.2 313.5,674.7 316.5,673.9 320.5,673.2 323.5,675.5 326.5,677.9 330.5,682.7 333.5,686.6 337.5,691.1 340.5,694.4 343.5,692.8 347.5,693.5 350.5,693.7 353.5,693.5 357.5,694.6 360.5,695.3 364.5,696.4 367.5,698.8 370.5,699.3 374.5,697.0 377.5,693.4 380.5,690.7 384.5,686.9 387.5,684.1 391.5,686.1 394.5,685.0 397.5,684.7 401.5,684.0 404.5,684.0 407.5,683.2 411.5,682.3 414.5,679.0 418.5,674.9 421.5,672.4 424.5,670.5 428.5,667.7 431.5,667.3 434.5,667.7 438.5,667.6 441.5,668.1 445.5,666.8 448.5,668.2 451.5,668.3 455.5,668.1 458.5,667.9 461.5,670.7 465.5,673.5 468.5,677.3 472.5,677.8 475.5,679.5 478.5,678.6 482.5,676.3 485.5,674.5 488.5,672.4 492.5,672.2 495.5,670.6 499.5,669.0 502.5,668.0 505.5,666.6 509.5,663.1 512.5,659.0 516.5,652.0 519.5,648.0 522.5,642.9 526.5,639.0 529.5,635.8 532.5,632.6 536.5,629.3 539.5,626.2 543.5,623.2 546.5,619.7 549.5,615.9 553.5,613.2 556.5,611.8 559.5,611.1 563.5,611.5 566.5,611.8 570.5,610.2 573.5,609.1 576.5,607.5 580.5,605.8 583.5,605.6 586.5,604.4 590.5,603.7 593.5,603.8 597.5,604.3 600.5,604.0 603.5,601.4 607.5,599.8 610.5,598.6 613.5,596.7 617.5,596.2 620.5,598.5 624.5,601.2 627.5,602.8 630.5,603.2 634.5,604.5 637.5,606.0 640.5,609.1 644.5,612.7 647.5,615.9 651.5,619.6 654.5,622.5 657.5,626.3 661.5,631.4 664.5,638.8 667.5,641.5 671.5,643.6 674.5,646.1 678.5,646.7 681.5,647.0 684.5,647.6 688.5,648.4 691.5,648.1 694.5,648.5 698.5,649.4 701.5,649.7 705.5,650.9 708.5,651.5 711.5,650.4 715.5,651.7 718.5,654.4 721.5,657.7 725.5,660.3 728.5,662.4 732.5,662.9 735.5,661.9 738.5,661.2 742.5,659.9 745.5,658.1 748.5,657.9 752.5,657.5 755.5,655.4 759.5,652.8 762.5,650.5 765.5,647.6 769.5,643.4 772.5,642.7 775.5,642.1 779.5,640.8 782.5,637.5 786.5,633.8 789.5,630.4 792.5,627.0 796.5,622.6 799.5,618.7 802.5,616.4 806.5,614.2 809.5,612.0 813.5,609.9 816.5,608.9 819.5,607.1 823.5,604.5 826.5,604.2 829.5,606.0 833.5,608.9 836.5,611.5 840.5,613.8 843.5,617.5 846.5,619.6 850.5,622.1 853.5,626.5 856.5,631.4 860.5,636.7 863.5,640.1 867.5,643.1 870.5,647.8 873.5,650.9 877.5,652.0 880.5,653.1 883.5,654.6 887.5,655.3 890.5,655.2 894.5,654.3 897.5,652.0 900.5,651.3 904.5,649.4 907.5,647.0 910.5,646.0 914.5,646.3 917.5,647.6 921.5,648.6 924.5,652.0 927.5,652.4 931.5,653.4 934.5,656.9 937.5,661.0 941.5,665.1 944.5,670.7 948.5,672.5 951.5,675.3 954.5,677.8 958.5,680.6 961.5,682.1 964.5,680.9 968.5,680.3 971.5,679.5 975.5,681.0 978.5,682.0 981.5,681.6 985.5,679.3 988.5,678.3 991.5,675.6 995.5,672.9 998.5,668.3 1002.5,664.1 1005.5,660.3 1008.5,657.0 1012.5,653.8 1015.5,651.4 1018.5,648.0 1022.5,645.9 1025.5,643.4 1029.5,642.1 1032.5,643.1 1035.5,644.2 1039.5,645.6 1042.5,650.1 1045.5,654.4 1049.5,658.5 1052.5,660.3 1056.5,661.0 1059.5,662.7 1062.5,661.8 1066.5,660.7 1069.5,657.8 1072.5,654.8 1076.5,651.1 1079.5,645.2 1083.5,641.3 1086.5,637.7 1089.5,632.8 1093.5,632.2 1096.5,632.2 1099.5,632.3 1103.5,633.5 1106.5,635.2 1110.5,639.8 1113.5,645.9 1116.5,652.9 1120.5,659.6 1123.5,666.0 1126.5,671.9 1130.5,676.2 1133.5,681.5 1137.5,684.6 1140.5,683.5 1143.5,681.4 1147.5,680.0 1150.5,678.8 1153.5,677.6 1157.5,676.7 1160.5,675.8 1164.5,673.5" fill="none" stroke="#fdd835" stroke-width="1.3" stroke-linejoin="round"/>
<polyline points="9.5,575.0 13.5,574.2 16.5,615.4 19.5,622.0 23.5,607.3 26.5,609.2 29.5,602.5 33.5,611.6 36.5,608.2 40.5,619.0 43.5,618.7 46.5,607.0 50.5,621.1 53.5,608.7 56.5,608.4 60.5,602.9 63.5,634.3 67.5,639.0 70.5,617.6 73.5,625.7 77.5,619.2 80.5,619.5 83.5,606.8 87.5,600.8 90.5,600.4 94.5,645.3 97.5,660.3 100.5,658.0 104.5,661.6 107.5,672.8 110.5,674.6 114.5,651.2 117.5,647.1 121.5,668.8 124.5,676.4 127.5,669.1 131.5,677.9 134.5,683.2 137.5,676.7 141.5,669.9 144.5,654.4 148.5,647.3 151.5,646.0 154.5,646.0 158.5,623.3 161.5,659.9 164.5,670.3 168.5,683.0 171.5,669.3 175.5,669.9 178.5,670.2 181.5,670.5 185.5,656.3 188.5,633.1 191.5,638.0 195.5,618.1 198.5,615.8 202.5,639.5 205.5,634.8 208.5,617.3 212.5,634.3 215.5,633.1 218.5,628.4 222.5,629.2 225.5,645.4 229.5,649.1 232.5,654.3 235.5,639.4 239.5,634.2 242.5,651.2 245.5,663.3 249.5,680.2 252.5,656.4 256.5,675.6 259.5,681.4 262.5,681.5 266.5,681.8 269.5,681.8 272.5,681.6 276.5,673.8 279.5,685.2 283.5,667.1 286.5,676.0 289.5,668.9 293.5,667.8 296.5,679.0 299.5,681.4 303.5,681.8 306.5,671.6 310.5,655.9 313.5,673.8 316.5,670.8 320.5,672.6 323.5,704.9 326.5,719.1 330.5,734.9 333.5,730.3 337.5,731.8 340.5,714.2 343.5,656.0 347.5,691.2 350.5,685.4 353.5,668.3 357.5,671.2 360.5,683.8 364.5,686.3 367.5,705.5 370.5,711.9 374.5,687.5 377.5,683.7 380.5,693.0 384.5,678.1 387.5,676.0 391.5,683.6 394.5,675.3 397.5,681.0 401.5,659.5 404.5,671.2 407.5,672.1 411.5,673.3 414.5,660.4 418.5,653.2 421.5,653.5 424.5,656.7 428.5,654.4 431.5,671.9 434.5,681.7 438.5,682.6 441.5,682.3 445.5,662.7 448.5,678.5 451.5,673.7 455.5,668.2 458.5,670.9 461.5,699.4 465.5,692.9 468.5,706.5 472.5,663.8 475.5,678.4 478.5,658.5 482.5,649.5 485.5,658.0 488.5,653.3 492.5,658.7 495.5,656.2 499.5,651.7 502.5,654.7 505.5,650.6 509.5,650.0 512.5,635.9 516.5,608.9 519.5,607.7 522.5,606.8 526.5,603.7 529.5,605.0 532.5,613.5 536.5,606.9 539.5,615.0 543.5,614.7 546.5,602.8 549.5,600.7 553.5,613.3 556.5,630.1 559.5,626.9 563.5,613.5 566.5,612.4 570.5,584.6 573.5,588.6 576.5,581.9 580.5,589.6 583.5,604.4 586.5,597.9 590.5,605.3 593.5,603.9 597.5,607.1 600.5,610.3 603.5,593.4 607.5,604.0 610.5,597.3 613.5,585.3 617.5,577.9 620.5,621.1 624.5,618.5 627.5,612.6 630.5,610.7 634.5,615.4 637.5,626.5 640.5,646.9 644.5,658.2 647.5,654.2 651.5,646.2 654.5,644.6 657.5,649.8 661.5,656.7 664.5,682.0 667.5,658.2 671.5,649.0 674.5,647.0 678.5,619.5 681.5,619.3 684.5,634.8 688.5,658.0 691.5,654.4 694.5,659.9 698.5,658.8 701.5,648.7 705.5,666.5 708.5,664.3 711.5,667.0 715.5,677.0 718.5,685.8 721.5,693.7 725.5,655.4 728.5,649.7 732.5,640.9 735.5,645.0 738.5,644.0 742.5,641.8 745.5,633.5 748.5,646.0 752.5,660.6 755.5,635.0 759.5,630.5 762.5,645.1 765.5,644.6 769.5,635.9 772.5,645.9 775.5,640.4 779.5,623.2 782.5,598.4 786.5,592.2 789.5,593.7 792.5,586.6 796.5,583.7 799.5,606.9 802.5,602.7 806.5,599.8 809.5,614.6 813.5,614.4 816.5,621.7 819.5,620.7 823.5,604.6 826.5,618.8 829.5,624.2 833.5,632.6 836.5,630.0 840.5,618.3 843.5,635.7 846.5,636.5 850.5,638.1 853.5,660.7 856.5,682.8 860.5,689.0 863.5,669.8 867.5,662.5 870.5,670.5 873.5,661.6 877.5,640.0 880.5,648.0 883.5,650.7 887.5,627.9 890.5,635.0 894.5,624.0 897.5,605.8 900.5,649.8 904.5,656.5 907.5,656.0 910.5,656.0 914.5,666.1 917.5,688.5 921.5,676.1 924.5,686.9 927.5,654.8 931.5,664.6 934.5,676.0 937.5,693.0 941.5,681.1 944.5,684.2 948.5,674.6 951.5,695.6 954.5,692.2 958.5,694.9 961.5,686.8 964.5,671.8 968.5,668.5 971.5,675.3 975.5,675.7 978.5,678.9 981.5,669.5 985.5,661.6 988.5,666.4 991.5,646.8 995.5,636.1 998.5,631.9 1002.5,633.4 1005.5,641.7 1008.5,640.0 1012.5,627.9 1015.5,634.0 1018.5,628.1 1022.5,645.6 1025.5,645.1 1029.5,650.4 1032.5,675.9 1035.5,681.2 1039.5,666.4 1042.5,699.6 1045.5,691.8 1049.5,691.8 1052.5,666.1 1056.5,649.3 1059.5,652.2 1062.5,622.1 1066.5,612.3 1069.5,604.5 1072.5,603.6 1076.5,598.7 1079.5,593.4 1083.5,626.4 1086.5,616.3 1089.5,630.1 1093.5,683.4 1096.5,692.4 1099.5,667.3 1103.5,666.3 1106.5,676.7 1110.5,686.3 1113.5,696.6 1116.5,703.2 1120.5,697.9 1123.5,687.7 1126.5,676.4 1130.5,686.6 1133.5,689.9 1137.5,673.8 1140.5,667.7 1143.5,663.6 1147.5,647.4 1150.5,650.0 1153.5,659.0 1157.5,674.6 1160.5,683.3 1164.5,671.7" fill="none" stroke="#7e57c2" stroke-width="3" stroke-linejoin="round" stroke-linecap="round"/>
</g>
<text x="18" y="45.9" font-size="12" fill="#131722" textLength="177.7" lengthAdjust="spacingAndGlyphs" stroke="#131722" stroke-width="0.25">Bitcoin / TetherUS · 1D · Binance</text>
<text x="203.1" y="45.9" font-size="12" fill="#131722" stroke="#131722" stroke-width="0.25">O</text>
<text x="212" y="45.9" font-size="12" fill="#26a69a" textLength="58.5" lengthAdjust="spacingAndGlyphs" stroke="#26a69a" stroke-width="0.25">108,322.87</text>
<text x="277.6" y="45.9" font-size="12" fill="#131722" stroke="#131722" stroke-width="0.25">H</text>
<text x="286.5" y="45.9" font-size="12" fill="#26a69a" textLength="58.5" lengthAdjust="spacingAndGlyphs" stroke="#26a69a" stroke-width="0.25">111,190.00</text>
<text x="352.3" y="45.9" font-size="12" fill="#131722" stroke="#131722" stroke-width="0.25">L</text>
<text x="359" y="45.9" font-size="12" fill="#26a69a" textLength="58.5" lengthAdjust="spacingAndGlyphs" stroke="#26a69a" stroke-width="0.25">108,275.28</text>
<text x="424.7" y="45.9" font-size="12" fill="#131722" stroke="#131722" stroke-width="0.25">C</text>
<text x="432.3" y="45.9" font-size="12" fill="#26a69a" textLength="57.9" lengthAdjust="spacingAndGlyphs" stroke="#26a69a" stroke-width="0.25">110,042.15</text>
<text x="498.4" y="45.9" font-size="12" fill="#26a69a" textLength="101.1" lengthAdjust="spacingAndGlyphs" stroke="#26a69a" stroke-width="0.25">+1,719.27 (+1.59%)</text>
<text x="18" y="62.7" font-size="12" fill="#131722" textLength="82" lengthAdjust="spacingAndGlyphs" stroke="#131722" stroke-width="0.25">EMA (20, close)</text>
<text x="108.2" y="62.7" font-size="12" fill="#2962ff" textLength="58.1" lengthAdjust="spacingAndGlyphs" stroke="#2962ff" stroke-width="0.25">111,557.17</text>
<text x="18" y="79.7" font-size="12" fill="#131722" textLength="82" lengthAdjust="spacingAndGlyphs" stroke="#131722" stroke-width="0.25">SMA (50, close)</text>
<text x="108.2" y="79.7" font-size="12" fill="#f23645" textLength="57.4" lengthAdjust="spacingAndGlyphs" stroke="#f23645" stroke-width="0.25">114,024.76</text>
<text x="18.4" y="583.5" font-size="12" fill="#131722" textLength="75" lengthAdjust="spacingAndGlyphs" stroke="#131722" stroke-width="0.25">RSI (14, close)</text>
<text x="102" y="583.5" font-size="12" fill="#7e57c2" textLength="28.8" lengthAdjust="spacingAndGlyphs" stroke="#7e57c2" stroke-width="0.25">45.72</text>
<text x="138.3" y="583.5" font-size="12" fill="#fdd835" textLength="28.6" lengthAdjust="spacingAndGlyphs" stroke="#fdd835" stroke-width="0.25">45.11</text>
<defs><clipPath id="tc"><rect x="11" y="746" width="1260" height="26"/></clipPath></defs><g clip-path="url(#tc)">
<text x="36.5" y="763" font-size="12" fill="#131722" text-anchor="middle" stroke="#131722" stroke-width="0.25">Dec</text>
<text x="141.5" y="763" font-size="12" fill="#131722" font-weight="bold" text-anchor="middle">2025</text>
<text x="245.5" y="763" font-size="12" fill="#131722" text-anchor="middle" stroke="#131722" stroke-width="0.25">Feb</text>
<text x="340.5" y="763" font-size="12" fill="#131722" text-anchor="middle" stroke="#131722" stroke-width="0.25">Mar</text>
<text x="445.5" y="763" font-size="12" fill="#131722" text-anchor="middle" stroke="#131722" stroke-width="0.25">Apr</text>
<text x="546.5" y="763" font-size="12" fill="#131722" text-anchor="middle" stroke="#131722" stroke-width="0.25">May</text>
<text x="651.5" y="763" font-size="12" fill="#131722" text-anchor="middle" stroke="#131722" stroke-width="0.25">Jun</text>
<text x="752.5" y="763" font-size="12" fill="#131722" text-anchor="middle" stroke="#131722" stroke-width="0.25">Jul</text>
<text x="856.5" y="763" font-size="12" fill="#131722" text-anchor="middle" stroke="#131722" stroke-width="0.25">Aug</text>
<text x="961.5" y="763" font-size="12" fill="#131722" text-anchor="middle" stroke="#131722" stroke-width="0.25">Sep</text>
<text x="1062.5" y="763" font-size="12" fill="#131722" text-anchor="middle" stroke="#131722" stroke-width="0.25">Oct</text>
<text x="1167.5" y="763" font-size="12" fill="#131722" text-anchor="middle" stroke="#131722" stroke-width="0.25">Nov</text>
<text x="1268.5" y="763" font-size="12" fill="#131722" text-anchor="middle" stroke="#131722" stroke-width="0.25">Dec</text>
</g>
<text x="1280.5" y="76.8" font-size="12" fill="#131722" textLength="58.7" lengthAdjust="spacingAndGlyphs" stroke="#131722" stroke-width="0.25">124,000.00</text>
<text x="1280.5" y="114.8" font-size="12" fill="#131722" textLength="58.7" lengthAdjust="spacingAndGlyphs" stroke="#131722" stroke-width="0.25">120,000.00</text>
<text x="1280.5" y="151.8" font-size="12" fill="#131722" textLength="58.7" lengthAdjust="spacingAndGlyphs" stroke="#131722" stroke-width="0.25">116,000.00</text>
<text x="1280.5" y="262.8" font-size="12" fill="#131722" textLength="58.7" lengthAdjust="spacingAndGlyphs" stroke="#131722" stroke-width="0.25">104,000.00</text>
<text x="1280.5" y="337.8" font-size="12" fill="#131722" textLength="53.4" lengthAdjust="spacingAndGlyphs" stroke="#131722" stroke-width="0.25">96,000.00</text>
<text x="1280.5" y="374.8" font-size="12" fill="#131722" textLength="53.4" lengthAdjust="spacingAndGlyphs" stroke="#131722" stroke-width="0.25">92,000.00</text>
<text x="1280.5" y="411.8" font-size="12" fill="#131722" textLength="53.4" lengthAdjust="spacingAndGlyphs" stroke="#131722" stroke-width="0.25">88,000.00</text>
<text x="1280.5" y="448.8" font-size="12" fill="#131722" textLength="53.4" lengthAdjust="spacingAndGlyphs" stroke="#131722" stroke-width="0.25">84,000.00</text>
<text x="1280.5" y="486.8" font-size="12" fill="#131722" textLength="53.4" lengthAdjust="spacingAndGlyphs" stroke="#131722" stroke-width="0.25">80,000.00</text>
<text x="1280.5" y="523.8" font-size="12" fill="#131722" textLength="53.4" lengthAdjust="spacingAndGlyphs" stroke="#131722" stroke-width="0.25">76,000.00</text>
<text x="1280.5" y="560.8" font-size="12" fill="#131722" textLength="53.4" lengthAdjust="spacingAndGlyphs" stroke="#131722" stroke-width="0.25">72,000.00</text>
<text x="1280.5" y="573.8" font-size="12" fill="#131722" textLength="29" lengthAdjust="spacingAndGlyphs" stroke="#131722" stroke-width="0.25">80.00</text>
<text x="1280.5" y="631.8" font-size="12" fill="#131722" textLength="29" lengthAdjust="spacingAndGlyphs" stroke="#131722" stroke-width="0.25">60.00</text>
<rect x="1275" y="31" width="70" height="26" rx="4" fill="#fff" stroke="#f0f0f0" stroke-width="2"/>
<text x="1284.5" y="48.5" font-size="11.6" fill="#131722" textLength="27.3" lengthAdjust="spacingAndGlyphs" stroke="#131722" stroke-width="0.25">USDT</text>
<rect x="1272" y="60" width="73" height="3" rx="1" fill="#0000ff"/>
<path d="M1272 122H1343Q1345 122 1345 124V137Q1345 139 1343 139H1272Z" fill="#0000ff"/>
<text x="1280.5" y="134" font-size="12" fill="#fff" textLength="58.7" lengthAdjust="spacingAndGlyphs" stroke="#fff" stroke-width="0.35">118,000.00</text>
<path d="M1272 159H1223Q1221 159 1221 161V174Q1221 176 1223 176H1272Z" fill="#f23645"/>
<path d="M1272 159H1343Q1345 159 1345 161V174Q1345 176 1343 176H1272Z" fill="#f23645"/>
<text x="1225.8" y="171.3" font-size="12" fill="#fff" textLength="41.5" lengthAdjust="spacingAndGlyphs" stroke="#fff" stroke-width="0.35">SMA:MA</text>
<text x="1280.5" y="171.3" font-size="12" fill="#fff" textLength="58.7" lengthAdjust="spacingAndGlyphs" stroke="#fff" stroke-width="0.35">114,024.76</text>
<path d="M1272 179H1242Q1240 179 1240 181V194Q1240 196 1242 196H1272Z" fill="#2962ff"/>
<path d="M1272 179H1343Q1345 179 1345 181V194Q1345 196 1343 196H1272Z" fill="#2962ff"/>
<text x="1245" y="191.3" font-size="12" fill="#fff" textLength="21.8" lengthAdjust="spacingAndGlyphs" stroke="#fff" stroke-width="0.35">EMA</text>
<text x="1280.5" y="191.3" font-size="12" fill="#fff" textLength="58.7" lengthAdjust="spacingAndGlyphs" stroke="#fff" stroke-width="0.35">111,557.17</text>
<path d="M1272 196H1216Q1214 196 1214 198V211Q1214 213 1216 213H1272Z" fill="#26a69a"/>
<path d="M1272 196H1343Q1345 196 1345 198V239Q1345 241 1343 241H1272Z" fill="#26a69a"/>
<text x="1218.6" y="208.3" font-size="12" fill="#fff" textLength="48.3" lengthAdjust="spacingAndGlyphs" stroke="#fff" stroke-width="0.35">BTCUSDT</text>
<text x="1280.5" y="208.3" font-size="12" fill="#fff" textLength="58.7" lengthAdjust="spacingAndGlyphs" stroke="#fff" stroke-width="0.35">110,042.15</text>
<text x="1280.5" y="222.6" font-size="12" fill="#fff" textLength="42.5" lengthAdjust="spacingAndGlyphs" stroke="#fff" stroke-width="0.35">+11.28%</text>
<text x="1280.5" y="236.4" font-size="12" fill="#d4ede9" textLength="46.5" lengthAdjust="spacingAndGlyphs" stroke="#d4ede9" stroke-width="0.35">07:46:54</text>
<path d="M1272 241H1343Q1345 241 1345 243V256Q1345 258 1343 258H1272Z" fill="#0000ff"/>
<text x="1280.5" y="253.3" font-size="12" fill="#fff" textLength="58.7" lengthAdjust="spacingAndGlyphs" stroke="#fff" stroke-width="0.35">107,000.00</text>
<path d="M1272 290H1343Q1345 290 1345 292V305Q1345 307 1343 307H1272Z" fill="#0000ff"/>
<text x="1280.5" y="302" font-size="12" fill="#fff" textLength="58.7" lengthAdjust="spacingAndGlyphs" stroke="#fff" stroke-width="0.35">100,000.00</text>
<path d="M1272 533H1336Q1338 533 1338 535V548Q1338 550 1336 550H1272Z" fill="#0000ff"/>
<text x="1280.5" y="545.3" font-size="12" fill="#fff" textLength="53.4" lengthAdjust="spacingAndGlyphs" stroke="#fff" stroke-width="0.35">73,777.00</text>
<path d="M1272 663H1248Q1246 663 1246 665V678Q1246 680 1248 680H1272Z" fill="#7e57c2"/>
<path d="M1272 663H1313Q1315 663 1315 665V678Q1315 680 1313 680H1272Z" fill="#7e57c2"/>
<text x="1250" y="675.3" font-size="12" fill="#fff" textLength="17.5" lengthAdjust="spacingAndGlyphs" stroke="#fff" stroke-width="0.35">RSI</text>
<text x="1280.5" y="675.3" font-size="12" fill="#fff" textLength="29" lengthAdjust="spacingAndGlyphs" stroke="#fff" stroke-width="0.35">45.72</text>
<path d="M1272 680H1194Q1192 680 1192 682V695Q1192 697 1194 697H1272Z" fill="#fdd835"/>
<path d="M1272 680H1313Q1315 680 1315 682V695Q1315 697 1313 697H1272Z" fill="#fdd835"/>
<text x="1197" y="692.3" font-size="12" fill="#131722" textLength="70" lengthAdjust="spacingAndGlyphs" stroke="#131722" stroke-width="0.25">RSI-based MA</text>
<text x="1280.5" y="692.3" font-size="12" fill="#131722" textLength="29" lengthAdjust="spacingAndGlyphs" stroke="#131722" stroke-width="0.25">45.11</text>
<line x1="1271.5" y1="28" x2="1271.5" y2="772" stroke="#e0e0e0" stroke-width="1"/>
<circle cx="1164.4" cy="551.3" r="9.7" fill="#fff" stroke="#9c27b0" stroke-width="1.4"/>
<polyline points="1166.6,546.6 1160.9,551.4 1167.9,551.4 1161.5,556.4" fill="none" stroke="#9c27b0" stroke-width="1.7" stroke-linejoin="round" stroke-linecap="round"/>
<circle cx="1171.4" cy="544.5" r="4.4" fill="#fff"/>
<circle cx="1171.4" cy="544.5" r="2.5" fill="#f23645"/>
<path d="M12.2 795H24.5V809.8H17.9V800.9H12.2Z" fill="#131722"/>
<circle cx="29.1" cy="797.9" r="2.9" fill="#131722"/>
<path d="M33.8 795H41.7L35.8 809.8H28.5Z" fill="#131722"/>
<text x="49.3" y="809.8" font-size="20.5" font-weight="bold" fill="#131722" textLength="120.2" lengthAdjust="spacingAndGlyphs">TradingView</text>
</svg></body></html>
